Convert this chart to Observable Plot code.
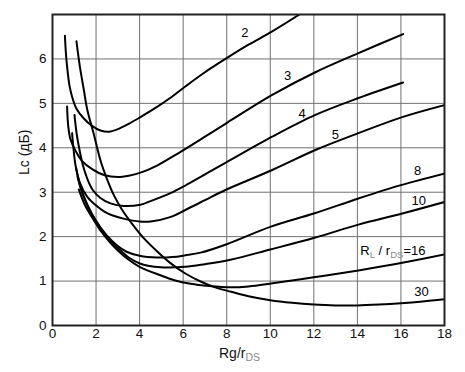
<!DOCTYPE html>
<html><head><meta charset="utf-8">
<script src="https://cdn.jsdelivr.net/npm/d3@7"></script>
<script src="https://cdn.jsdelivr.net/npm/@observablehq/plot@0.6"></script>
<style>body{margin:0;background:#fff} svg{display:block}</style>
</head><body><div id="chart"></div>
<script>
// ---- data ----
const xTicks = [0, 2, 4, 6, 8, 10, 12, 14, 16, 18];
const yTicks = [0, 1, 2, 3, 4, 5, 6];
const yGrid = [0, 1, 2, 3, 4, 5, 6, 7];

const rg2 = [0.57,0.62,0.67,0.78,0.9,1.1,1.44,1.8,2.2,2.6,3.0,3.5,4.0,4.8,5.4,6.1,7.0,7.94,9.0,10.09,11.34];
const lc2 = [6.52,6.1,5.83,5.4,5.15,4.88,4.66,4.5,4.39,4.36,4.42,4.54,4.68,4.92,5.12,5.38,5.7,6.0,6.32,6.62,7.0];

const rg3 = [0.67,0.72,0.82,1.06,1.36,1.82,2.4,3.0,3.5,4.04,4.8,5.88,7.0,7.94,10.09,12.07,14.05,16.1];
const lc3 = [4.93,4.5,4.2,3.93,3.7,3.52,3.38,3.34,3.37,3.44,3.6,3.91,4.25,4.54,5.19,5.7,6.13,6.56];

const rg4 = [1.01,1.1,1.22,1.4,1.6,1.85,2.2,2.66,3.27,4.04,4.5,5.42,6.1,7.0,7.94,10.09,12.07,14.05,16.1];
const lc4 = [4.74,4.35,4.0,3.6,3.3,3.05,2.87,2.75,2.69,2.72,2.8,2.98,3.15,3.4,3.66,4.25,4.74,5.12,5.47];

const rg5 = [0.9,0.97,1.06,1.25,1.59,2.0,2.4,2.8,3.3,4.0,4.5,5.4,6.1,7.0,7.94,10.09,12.07,14.05,16.06,18];
const lc5 = [4.33,3.95,3.6,3.22,2.9,2.7,2.56,2.47,2.4,2.34,2.34,2.44,2.6,2.82,3.05,3.5,3.95,4.33,4.69,4.96];

const rg8 = [1.08,1.3,1.6,2.0,2.5,2.97,3.4,4.0,4.8,5.5,6.1,6.8,8.0,10,12,14.05,16,18];
const lc8 = [3.55,3.1,2.72,2.35,2.02,1.8,1.66,1.57,1.53,1.54,1.58,1.64,1.83,2.22,2.52,2.86,3.16,3.42];

const rg10 = [1.15,1.35,1.65,2.0,2.5,2.97,3.5,4.04,4.96,6.1,7.0,8.17,10,12.07,14.05,16.06,18];
const lc10 = [3.35,3.0,2.65,2.35,2.0,1.76,1.53,1.39,1.31,1.32,1.38,1.48,1.71,1.98,2.27,2.52,2.78];

const rg16 = [1.21,1.5,1.9,2.2,2.66,3.0,3.5,4.04,4.96,5.6,6.34,7.2,8.2,9.0,10.1,12.07,14.05,16.06,18];
const lc16 = [3.06,2.7,2.37,2.14,1.86,1.69,1.48,1.31,1.13,1.02,0.94,0.89,0.86,0.88,0.95,1.09,1.24,1.41,1.6];

const rg30 = [1.1,1.25,1.44,1.6,1.9,2.2,2.5,2.8,3.2,3.7,4.2,4.8,5.4,6.1,6.8,7.4,8.2,9,10,11,12,13,14,15,16,17,18];
const lc30 = [6.4,5.85,5.3,4.85,4.3,3.72,3.3,2.95,2.6,2.26,1.96,1.67,1.41,1.17,0.99,0.87,0.76,0.66,0.57,0.51,0.47,0.45,0.45,0.47,0.5,0.54,0.59];

const curveNames = ["2", "3", "4", "5", "8", "10", "16", "30"];
const curveX = [rg2, rg3, rg4, rg5, rg8, rg10, rg16, rg30];
const curveY = [lc2, lc3, lc4, lc5, lc8, lc10, lc16, lc30];

const labelText = ["2", "3", "4", "5", "8", "10", "RL / rDS=16", "30"];
const labelX = [8.83, 10.8, 11.46, 12.99, 16.77, 16.82, 15.63, 16.94];
const labelY = [6.58, 5.63, 4.76, 4.29, 3.48, 2.8, 1.69, 0.75];

// ---- build tables ----
const rows = [];
curveNames.forEach((n, i) => curveX[i].forEach((x, j) => rows.push({curve: n, x, y: curveY[i][j]})));
const labels = labelText.map((t, i) => ({t, x: labelX[i], y: labelY[i]}));

const FONT = "'Liberation Sans', Arial, Helvetica, sans-serif";

const chart = Plot.plot({
  width: 465, height: 372,
  marginLeft: 52, marginRight: 21, marginTop: 14, marginBottom: 47,
  x: {domain: [0, 18]},
  y: {domain: [0, 7]},
  style: {fontFamily: FONT, fontSize: "13.5px", color: "#111", background: "#fff"},
  marks: [
    Plot.gridX(xTicks, {stroke: "#707070", strokeOpacity: 1, strokeWidth: 1}),
    Plot.gridY(yGrid, {stroke: "#707070", strokeOpacity: 1, strokeWidth: 1}),
    Plot.line(rows, {x: "x", y: "y", z: "curve", stroke: "#000", strokeWidth: 2, curve: "catmull-rom", clip: true}),
    Plot.frame({stroke: "#222", strokeWidth: 2}),
    Plot.axisX(xTicks, {tickSize: 0, tickPadding: 3, label: null, fontSize: 13.5, fill: "#111"}),
    Plot.axisY(yTicks, {tickSize: 0, tickPadding: 6, label: null, fontSize: 13.5, fill: "#111"}),
    Plot.text(labels, {x: "x", y: "y", text: "t", fontSize: 13, fill: "#000"}),
    Plot.text(["Rg/rDS"], {frameAnchor: "bottom", dy: 32, dx: -9, fontSize: 14, fill: "#111"}),
    Plot.text(["Lc (дБ)"], {frameAnchor: "left", dx: -28, dy: 5, rotate: -90, fontSize: 14, fill: "#111"})
  ]
});
document.getElementById("chart").appendChild(chart);

// rich text (subscripts)
d3.select(chart).selectAll("text").each(function () {
  const txt = this.textContent;
  if (txt === "Rg/rDS") {
    const s = d3.select(this); s.text(null);
    s.append("tspan").text("Rg/r");
    s.append("tspan").text("DS").attr("font-size", 10.5).attr("fill", "#8a8a8a").attr("dy", "0.3em");
  } else if (txt === "RL / rDS=16") {
    const s = d3.select(this); s.text(null);
    s.append("tspan").text("R");
    s.append("tspan").text("L").attr("font-size", 9.5).attr("fill", "#8a8a8a").attr("dy", "3");
    s.append("tspan").text(" / r").attr("dy", "-3");
    s.append("tspan").text("DS").attr("font-size", 9.5).attr("fill", "#8a8a8a").attr("dy", "3");
    s.append("tspan").text("=16").attr("dy", "-3");
  }
});
</script>
</body></html>
